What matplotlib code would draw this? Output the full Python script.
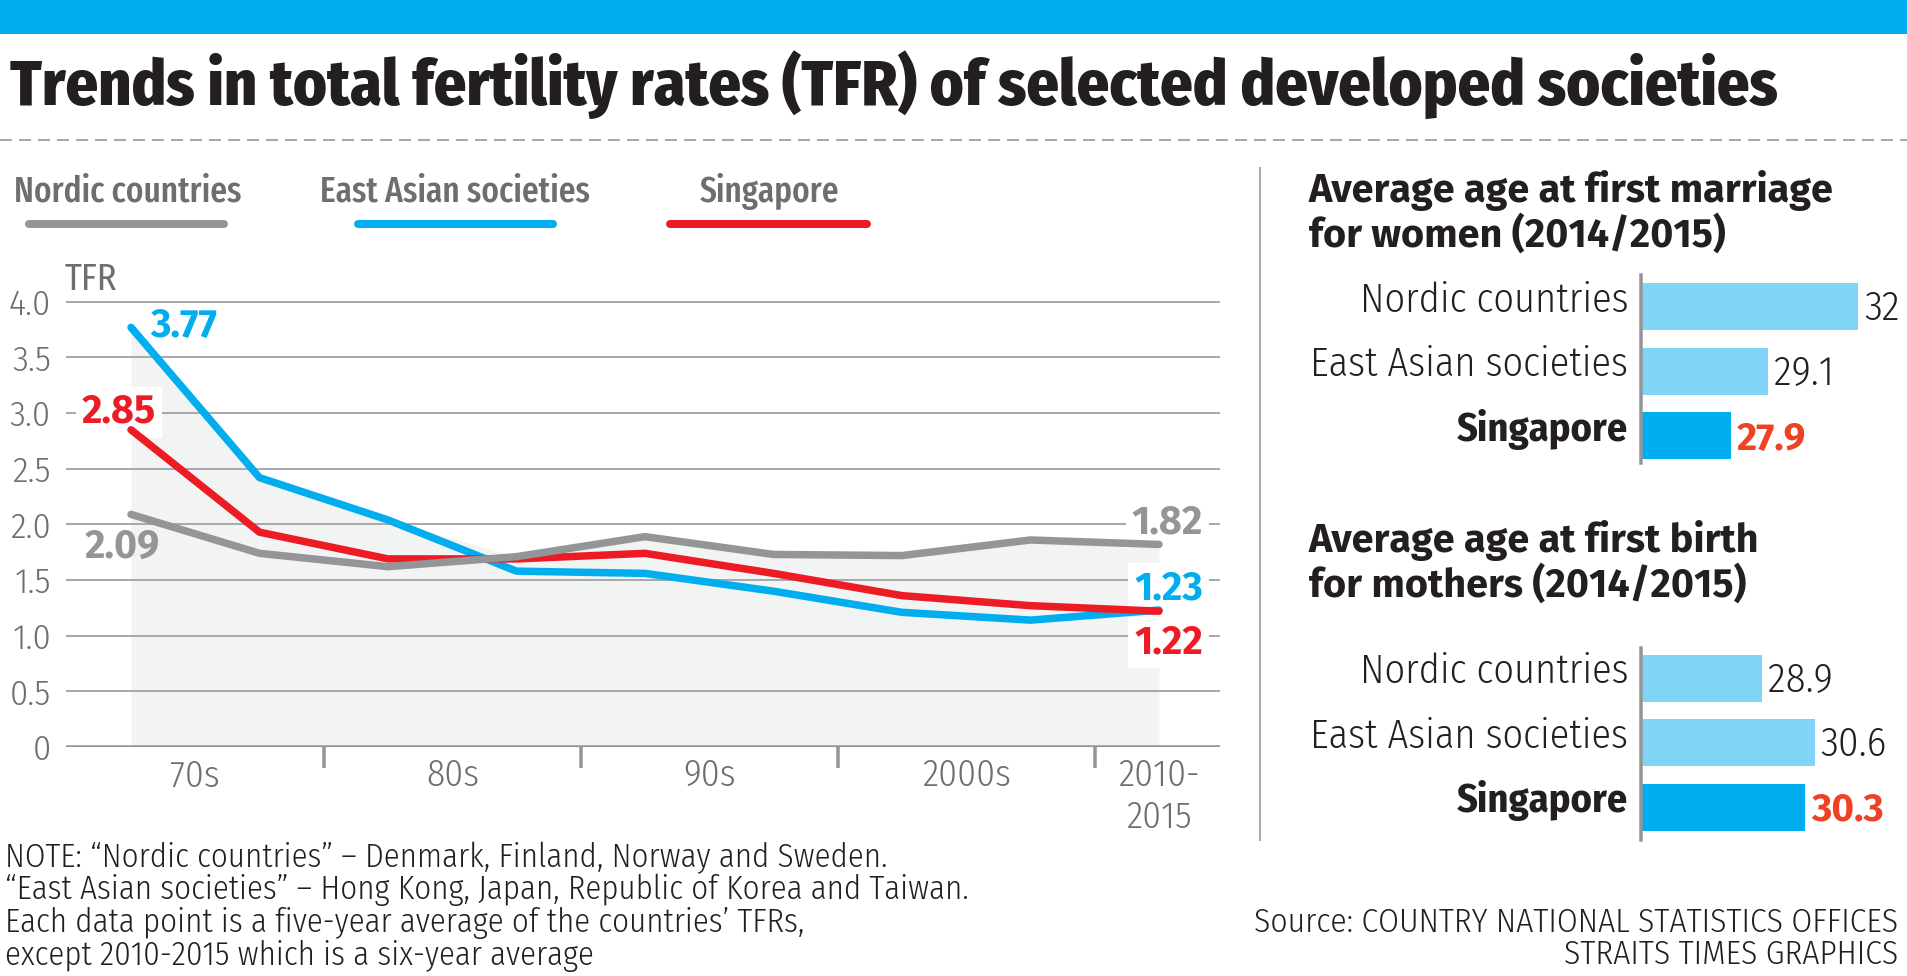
import numpy as np
import matplotlib
matplotlib.use("Agg")
import matplotlib.pyplot as plt
from matplotlib.lines import Line2D
from matplotlib.patches import Rectangle

# TFR, five-year averages (last one is 2010-2015)
periods = ["1970-74", "1975-79", "1980-84", "1985-89", "1990-94",
           "1995-99", "2000-04", "2005-09", "2010-15"]
nordic = [2.09, 1.74, 1.62, 1.71, 1.89, 1.73, 1.72, 1.86, 1.82]
east_asia = [3.77, 2.42, 2.04, 1.58, 1.56, 1.40, 1.21, 1.14, 1.23]
singapore = [2.85, 1.93, 1.69, 1.69, 1.74, 1.56, 1.36, 1.27, 1.22]
decade_labels = ["70s", "80s", "90s", "2000s", "2010-\n2015"]

# right hand panels
groups = ["Nordic countries", "East Asian societies", "Singapore"]
marriage_age = [32, 29.1, 27.9]
birth_age = [28.9, 30.6, 30.3]
AGE_BASE = 25

BLUE = "#00aeef"
LIGHT_BLUE = "#80d4f6"
RED = "#ed1c24"
RED_TXT = "#ef4123"
GRAY = "#939598"
GRID = "#a7a9ac"
GRAY_TXT = "#6d6e71"
DARK = "#231f20"
FILL = "#f2f3f3"

COND = ["Fira Sans Condensed", "Roboto Condensed", "DejaVu Sans"]
XCOND = ["Fira Sans Extra Condensed", "Fira Sans Condensed", "DejaVu Sans"]
WIDE = ["Fira Sans", "DejaVu Sans"]

W, H = 1907, 976
DPI = 100
plt.rcParams["font.family"] = COND


def fx(px):
    return px / W


def fy(py):
    return 1 - py / H


def pt(px):
    return px * 72 / DPI


fig = plt.figure(figsize=(W / DPI, H / DPI), dpi=DPI)
fig.patch.set_facecolor("white")

# top band, title and dashed rule
fig.add_artist(Rectangle((0, fy(34)), 1, 34 / H, transform=fig.transFigure,
                         color=BLUE, lw=0))
fig.text(fx(10), fy(105), "Trends in total fertility rates (TFR) of selected developed societies",
         fontsize=46, fontweight=800, color=DARK, va="baseline")
fig.add_artist(Line2D([0, 1], [fy(140), fy(140)], transform=fig.transFigure,
                      color=GRID, lw=pt(2), dashes=(6, 3.5)))

# legend
legend = [("Nordic countries", GRAY, 14, 25, 228),
          ("East Asian societies", BLUE, 320, 354, 557),
          ("Singapore", RED, 700, 666, 871)]
for name, c, tx, x0, x1 in legend:
    fig.text(fx(tx), fy(202), name, fontfamily=XCOND, fontsize=26, fontweight=500,
             color=GRAY_TXT, va="baseline")
    fig.add_artist(Line2D([fx(x0 + 4), fx(x1 - 4)], [fy(223.5), fy(223.5)],
                          transform=fig.transFigure, color=c, lw=pt(8),
                          solid_capstyle="round"))

# line chart
ax = fig.add_axes([fx(66), fy(747), fx(1220) - fx(66), (747 - 268) / H])
x = np.arange(len(periods))
ax.set_xlim(-0.506, 8.475)
ax.set_ylim(0, (747 - 268) / 111.3)
for s in ax.spines.values():
    s.set_visible(False)

top = np.max([nordic, east_asia, singapore], axis=0)
ax.fill_between(x, 0, top, color=FILL, lw=0, zorder=1)

yt = np.arange(0, 4.01, 0.5)
ax.set_yticks(yt)
ax.set_yticklabels(["0"] + ["%.1f" % v for v in yt[1:]], fontsize=26,
                   fontweight=300, color=GRAY_TXT)
ax.tick_params(axis="y", length=0, pad=pt(15))
ax.grid(axis="y", color=GRID, lw=pt(2))
ax.set_axisbelow("line")
ax.axhline(0, color=GRAY, lw=pt(4.5), zorder=2)

decade_pos = [0.5, 2.5, 4.5, 6.5, len(periods) - 1]
ax.set_xticks(decade_pos)
ax.set_xticklabels(decade_labels, fontsize=27, fontweight=300,
                   color=GRAY_TXT, linespacing=1.22)
ax.set_xticks([1.5, 3.5, 5.5, 7.5], minor=True)
ax.tick_params(axis="x", which="major", length=0, pad=pt(11))
ax.tick_params(axis="x", which="minor", length=pt(21), width=pt(3.5), color=GRAY)

for series, c, z in [(east_asia, BLUE, 3), (singapore, RED, 4), (nordic, GRAY, 5)]:
    ax.plot(x, series, color=c, lw=pt(7.5), solid_capstyle="round",
            solid_joinstyle="round", zorder=z)

fig.text(fx(65), fy(290), "TFR", fontsize=26, color=GRAY_TXT, va="baseline")

last = len(periods) - 1
labels = [(0, east_asia[0], BLUE, 19, -9.3, "left", False),
          (0, singapore[0], RED, -12.5, 6.8, "center", True),
          (0, nordic[0], GRAY, -9, -43.6, "center", False),
          (last, nordic[last], GRAY, 44, 11.4, "right", True),
          (last, east_asia[last], BLUE, 44, 11.1, "right", True),
          (last, singapore[last], RED, 44, -42.5, "right", True)]
for i, v, c, dx, dy, ha, boxed in labels:
    box = dict(boxstyle="square,pad=0.15", fc="white", ec="none") if boxed else None
    ax.annotate("%.2f" % v, xy=(i, v), xytext=(pt(dx), pt(dy)),
                textcoords="offset points", ha=ha, va="baseline",
                fontfamily=WIDE, fontsize=28.5, fontweight="bold", color=c,
                zorder=2.8, bbox=box)

# separator between the two parts
fig.add_artist(Line2D([fx(1260), fx(1260)], [fy(168), fy(840)],
                      transform=fig.transFigure, color=GRID, lw=pt(2)))


def age_panel(values, title, title_base, axis_top, axis_bottom, first_row):
    step = 64.5
    axb = fig.add_axes([fx(1641), fy(axis_bottom), fx(1889) - fx(1641),
                        (axis_bottom - axis_top) / H])
    axb.set_xlim(AGE_BASE, 33)
    axb.set_ylim(2 + (axis_bottom - first_row - 2 * step) / step,
                 -(first_row - axis_top) / step)
    rows = np.arange(len(values))
    colors = [LIGHT_BLUE, LIGHT_BLUE, BLUE]
    axb.barh(rows, [v - AGE_BASE for v in values], left=AGE_BASE,
             height=0.724, color=colors, lw=0)
    for s in ["top", "right", "bottom"]:
        axb.spines[s].set_visible(False)
    axb.spines["left"].set_color(GRAY)
    axb.spines["left"].set_linewidth(pt(3.5))
    axb.set_xticks([])
    axb.set_yticks([])
    for r, v in zip(rows, values):
        bold = groups[r] == "Singapore"
        axb.annotate(groups[r], xy=(AGE_BASE, r), xytext=(pt(-13), pt(-5)),
                     textcoords="offset points", ha="right", va="baseline",
                     fontsize=29, color=DARK,
                     fontweight="bold" if bold else 300)
        txt = "%g" % v
        if bold:
            axb.annotate(txt, xy=(v, r), xytext=(pt(6), pt(-13)),
                         textcoords="offset points", ha="left", va="baseline",
                         fontfamily=WIDE, fontsize=28, fontweight="bold",
                         color=RED_TXT)
        else:
            axb.annotate(txt, xy=(v, r), xytext=(pt(6), pt(-13)),
                         textcoords="offset points", ha="left", va="baseline",
                         fontsize=29.5, fontweight=300, color=DARK)
    for k, line in enumerate(title):
        fig.text(fx(1309), fy(title_base + 45 * k), line, fontfamily=WIDE,
                 fontsize=28.5, fontweight="bold", color=DARK, va="baseline")


age_panel(marriage_age, ["Average age at first marriage", "for women (2014/2015)"],
          201.7, 275, 463, 306.7)
age_panel(birth_age, ["Average age at first birth", "for mothers (2014/2015)"],
          551.7, 648, 840, 678.3)

# notes and source
notes = ["NOTE: \u201cNordic countries\u201d \u2013 Denmark, Finland, Norway and Sweden.",
         "\u201cEast Asian societies\u201d \u2013 Hong Kong, Japan, Republic of Korea and Taiwan.",
         "Each data point is a five-year average of the countries\u2019 TFRs,",
         "except 2010-2015 which is a six-year average"]
for k, line in enumerate(notes):
    fig.text(fx(5), fy(867 + 32.5 * k), line, fontsize=23.7, fontweight=300,
             color=DARK, va="baseline")

source = ["Source: COUNTRY NATIONAL STATISTICS OFFICES", "STRAITS TIMES GRAPHICS"]
for k, line in enumerate(source):
    fig.text(fx(1898), fy(932 + 32.5 * k), line, fontsize=24.1, fontweight=300,
             color=DARK, ha="right", va="baseline")

fig.savefig("out.png", dpi=DPI)
